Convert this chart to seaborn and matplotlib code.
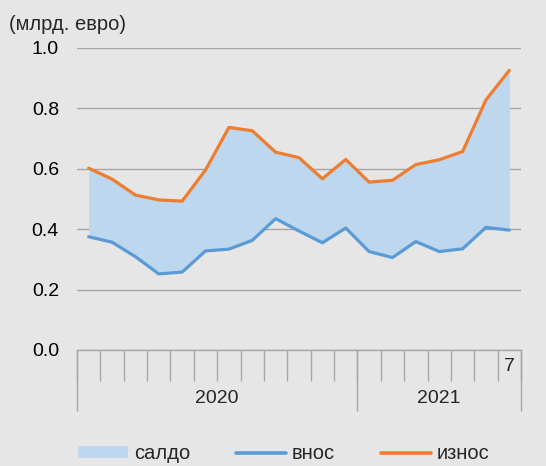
import numpy as np
import pandas as pd
import matplotlib
matplotlib.use("Agg")
import matplotlib.pyplot as plt
import seaborn as sns
from matplotlib.patches import Patch
from matplotlib.lines import Line2D

months = ["1", "2", "3", "4", "5", "6", "7", "8", "9", "10", "11", "12",
          "1", "2", "3", "4", "5", "6", "7"]
month_labels = [""] * 18 + ["7"]
years = ["2020", "2021"]
imports_ = [0.375, 0.357, 0.309, 0.252, 0.258, 0.328, 0.334, 0.363, 0.435, 0.394,
            0.355, 0.404, 0.326, 0.306, 0.359, 0.326, 0.335, 0.406, 0.397]
exports_ = [0.602, 0.566, 0.513, 0.497, 0.493, 0.596, 0.737, 0.726, 0.655, 0.637,
            0.567, 0.631, 0.556, 0.562, 0.614, 0.630, 0.657, 0.828, 0.926]
series_names = ["салдо", "внос", "износ"]
y_ticks = [0.0, 0.2, 0.4, 0.6, 0.8, 1.0]

BG = "#e6e6e6"
BLUE = "#5b9bd5"
ORANGE = "#ed7d31"
FILL = "#bdd7ee"
GRID = "#a6a6a6"

sns.set_theme(style="white")
plt.rcParams["font.family"] = ["Liberation Sans", "DejaVu Sans"]

df = pd.DataFrame({"x": np.arange(len(months)), "внос": imports_, "износ": exports_})

fig = plt.figure(figsize=(5.46, 4.66), dpi=100, facecolor=BG)
ax = fig.add_axes([77 / 546, 1 - 350 / 466, (521 - 77) / 546, (350 - 48) / 466])
ax.set_facecolor(BG)

ax.fill_between(df["x"], df["внос"], df["износ"], color=FILL, linewidth=0, zorder=1)
sns.lineplot(data=df, x="x", y="внос", ax=ax, color=BLUE, linewidth=2.3, zorder=3)
sns.lineplot(data=df, x="x", y="износ", ax=ax, color=ORANGE, linewidth=2.3, zorder=3)

ax.set_xlim(-0.5, len(months) - 0.5)
ax.set_ylim(0, 1.0)
ax.set_yticks(y_ticks)
ax.set_yticklabels([f"{v:.1f}" for v in y_ticks], fontsize=14, color="#000000")
ax.yaxis.grid(True, color=GRID, linewidth=1)
ax.set_axisbelow(True)
ax.tick_params(axis="y", length=0, pad=13)

for s in ["left", "top", "right"]:
    ax.spines[s].set_visible(False)
ax.spines["bottom"].set_color(GRID)
ax.spines["bottom"].set_linewidth(1)

ax.set_xticks(df["x"])
ax.set_xticklabels(month_labels, fontsize=14)
ax.set_xticks(np.arange(-0.5, len(months), 1.0), minor=True)
ax.tick_params(axis="x", which="major", length=0, pad=6, bottom=True)
ax.tick_params(axis="x", which="minor", length=22, width=1, color=GRID,
               direction="out", bottom=True)
ax.set_xlabel("")
ax.set_ylabel("")

sec = ax.secondary_xaxis("bottom")
sec.set_xticks([-0.5, 11.5, len(months) - 0.5])
sec.set_xticklabels(["", "", ""])
sec.set_xticks([5.5, 15.0], minor=True)
sec.set_xticklabels(years, minor=True, fontsize=14)
sec.tick_params(axis="x", which="major", length=44, width=1, color=GRID,
                direction="out", bottom=True)
sec.tick_params(axis="x", which="minor", length=0, pad=29, bottom=True)
sec.spines["bottom"].set_visible(False)

fig.text(9 / 546, 1 - 25 / 466, "(млрд. евро)", fontsize=14.5, va="center", ha="left")

handles = [Patch(facecolor=FILL, edgecolor="none"),
           Line2D([0], [0], color=BLUE, linewidth=2.6),
           Line2D([0], [0], color=ORANGE, linewidth=2.6)]
fig.legend(handles, series_names, loc="center", bbox_to_anchor=(0.52, 0.026),
           ncol=3, frameon=False, fontsize=14.5, handlelength=2.45, handleheight=0.55,
           handletextpad=0.3, columnspacing=2.3, borderpad=0)

fig.savefig("out.png", dpi=100, facecolor=BG)
